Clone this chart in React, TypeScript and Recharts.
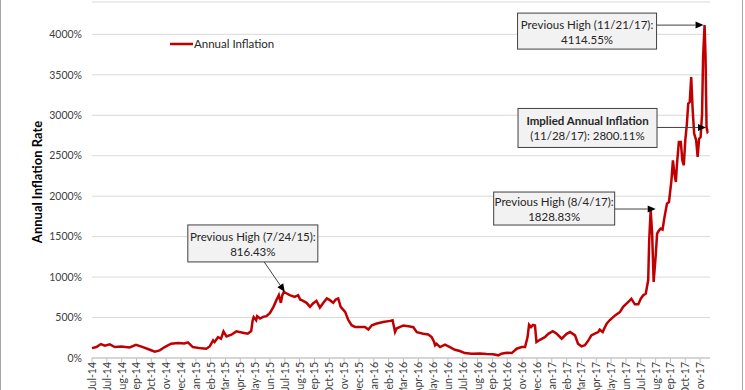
import { CartesianGrid, Line, LineChart, ReferenceDot, XAxis, YAxis } from "recharts";

const FONT = "Lato, 'DejaVu Sans', sans-serif";
const START = Date.UTC(2014, 6, 1);
const DAY = 86400000;

// observation dates and annual inflation (%)
const dates = [
  "2014-07-01", "2014-07-10", "2014-07-19", "2014-07-27", "2014-08-06", "2014-08-16", "2014-08-29", "2014-09-15",
  "2014-09-28", "2014-10-12", "2014-10-26", "2014-11-05", "2014-11-15", "2014-11-25", "2014-12-08", "2014-12-22",
  "2015-01-04", "2015-01-11", "2015-01-21", "2015-02-07", "2015-02-17", "2015-02-24", "2015-03-03", "2015-03-06",
  "2015-03-13", "2015-03-19", "2015-03-24", "2015-03-30", "2015-04-09", "2015-04-19", "2015-05-02", "2015-05-12",
  "2015-05-19", "2015-05-22", "2015-05-24", "2015-05-29", "2015-05-31", "2015-06-06", "2015-06-12", "2015-06-19",
  "2015-06-26", "2015-07-03", "2015-07-09", "2015-07-14", "2015-07-18", "2015-07-21", "2015-07-24", "2015-07-30",
  "2015-08-05", "2015-08-15", "2015-08-22", "2015-08-26", "2015-09-01", "2015-09-08", "2015-09-15", "2015-09-21",
  "2015-09-28", "2015-10-05", "2015-10-12", "2015-10-19", "2015-10-25", "2015-11-01", "2015-11-06", "2015-11-11",
  "2015-11-16", "2015-11-25", "2015-12-01", "2015-12-08", "2015-12-15", "2015-12-25", "2016-01-04", "2016-01-11",
  "2016-01-18", "2016-01-28", "2016-02-10", "2016-02-24", "2016-02-29", "2016-03-05", "2016-03-08", "2016-03-15",
  "2016-03-22", "2016-04-04", "2016-04-11", "2016-04-18", "2016-05-01", "2016-05-11", "2016-05-18", "2016-05-23",
  "2016-05-25", "2016-05-28", "2016-06-04", "2016-06-14", "2016-06-24", "2016-07-04", "2016-07-14", "2016-07-24",
  "2016-08-07", "2016-08-24", "2016-09-06", "2016-09-19", "2016-09-30", "2016-10-06", "2016-10-17", "2016-10-27",
  "2016-11-06", "2016-11-16", "2016-11-23", "2016-11-28", "2016-12-01", "2016-12-05", "2016-12-09", "2016-12-13",
  "2016-12-16", "2016-12-23", "2017-01-02", "2017-01-09", "2017-01-18", "2017-01-26", "2017-02-05", "2017-02-15",
  "2017-02-22", "2017-03-04", "2017-03-10", "2017-03-17", "2017-03-24", "2017-03-31", "2017-04-06", "2017-04-13",
  "2017-04-20", "2017-04-23", "2017-04-29", "2017-05-02", "2017-05-07", "2017-05-13", "2017-05-24", "2017-06-03",
  "2017-06-09", "2017-06-16", "2017-06-23", "2017-06-26", "2017-07-03", "2017-07-10", "2017-07-15", "2017-07-20",
  "2017-07-25", "2017-07-30", "2017-08-01", "2017-08-04", "2017-08-07", "2017-08-10", "2017-08-14", "2017-08-17",
  "2017-08-21", "2017-08-24", "2017-08-28", "2017-09-01", "2017-09-06", "2017-09-10", "2017-09-15", "2017-09-18",
  "2017-09-21", "2017-09-24", "2017-09-26", "2017-09-30", "2017-10-04", "2017-10-07", "2017-10-10", "2017-10-13",
  "2017-10-16", "2017-10-19", "2017-10-22", "2017-10-25", "2017-10-28", "2017-10-31", "2017-11-04", "2017-11-07",
  "2017-11-10", "2017-11-13", "2017-11-16", "2017-11-18", "2017-11-21", "2017-11-23", "2017-11-25", "2017-11-27",
  "2017-11-28",
];

const inflation = [
  122, 135, 172, 152, 168, 135, 143, 131,
  164, 135, 102, 78, 94, 135, 176, 184,
  180, 193, 135, 119, 115, 143, 218, 197,
  258, 238, 329, 267, 288, 329, 313, 300,
  333, 467, 506, 467, 516, 488, 508, 517,
  558, 632, 715, 777, 682, 777, 816.43, 797,
  777, 756, 777, 723, 707, 682, 632, 674,
  707, 624, 682, 736, 715, 682, 723, 736,
  632, 570, 475, 405, 384, 384, 384, 351,
  405, 426, 446, 459, 467, 322, 364, 384,
  402, 389, 381, 320, 299, 291, 258, 197,
  156, 176, 135, 164, 135, 102, 86, 61,
  53, 57, 49, 45, 33, 53, 66, 61,
  115, 135, 135, 258, 410, 381, 410, 402,
  197, 225, 258, 299, 332, 299, 238, 299,
  321, 280, 177, 144, 157, 218, 280, 301,
  321, 350, 321, 363, 424, 466, 527, 569,
  630, 672, 713, 733, 663, 663, 733, 775,
  795, 960, 1454, 1828.83, 1537, 939, 1248, 1537,
  1578, 1599, 1586, 1743, 1908, 1928, 2196, 2443,
  2279, 2175, 2382, 2670, 2670, 2443, 2382, 2690,
  2876, 3144, 3164, 3473, 3061, 2773, 2690, 2485,
  2711, 2732, 3020, 3721, 4114.55, 3721, 2855, 2794,
  2800.11,
];

const tickLabels = [
  "Jul-14", "Jul-14", "Aug-14", "Sep-14", "Oct-14", "Nov-14", "Dec-14",
  "Jan-15", "Feb-15", "Mar-15", "Apr-15", "May-15", "Jun-15", "Jul-15", "Aug-15", "Sep-15", "Oct-15", "Nov-15", "Dec-15",
  "Jan-16", "Feb-16", "Mar-16", "Apr-16", "May-16", "Jun-16", "Jul-16", "Aug-16", "Sep-16", "Oct-16", "Nov-16", "Dec-16",
  "Jan-17", "Feb-17", "Mar-17", "Apr-17", "May-17", "Jun-17", "Jul-17", "Aug-17", "Sep-17", "Oct-17", "Nov-17",
];

const yTicks = [0, 500, 1000, 1500, 2000, 2500, 3000, 3500, 4000];

const calloutDates = ["2015-07-24", "2017-08-04", "2017-11-21", "2017-11-28"];
const calloutValues = [816.43, 1828.83, 4114.55, 2800.11];
const calloutText = [
  ["Previous High (7/24/15):", "816.43%"],
  ["Previous High (8/4/17):", "1828.83%"],
  ["Previous High (11/21/17):", "4114.55%"],
  ["Implied Annual Inflation", "(11/28/17): 2800.11%"],
];

// box offset / size and arrow start/end, relative to the point
const calloutLayout = [
  { bx: -96, by: -67, w: 130, h: 37, sx: -21, sy: -32, ex: 1, ey: 0, bold: false },
  { bx: -157, by: -18, w: 121, h: 33, sx: -36, sy: -1, ex: 5, ey: -1, bold: false },
  { bx: -187, by: -12, w: 139, h: 36, sx: -48, sy: 0, ex: -1, ey: 0, bold: false },
  { bx: -190, by: -23, w: 139, h: 39, sx: -51, sy: -4, ex: -2, ey: -4, bold: true },
];

const dayOf = (s: string) => (Date.parse(s + "T00:00:00Z") - START) / DAY;

const data = dates.map((d, i) => ({ day: dayOf(d), value: inflation[i] }));
const xTicks = tickLabels.map((_, i) => i * 30);

const MonthTick = ({ x, y, payload }: any) => (
  <g transform={`translate(${x},${y})`}>
    <text
      transform="rotate(-90)"
      x={1}
      y={0}
      textAnchor="end"
      dominantBaseline="central"
      fontSize={10.5}
      fontFamily={FONT}
      fill="#404040"
    >
      {tickLabels[Math.round(payload.value / 30)]}
    </text>
  </g>
);

const makeCallout = (idx: number) => (props: any) => {
  const { cx, cy } = props;
  const L = calloutLayout[idx];
  const [l1, l2] = calloutText[idx];
  const x0 = cx + L.bx;
  const y0 = cy + L.by;
  const sx = cx + L.sx;
  const sy = cy + L.sy;
  const ex = cx + L.ex;
  const ey = cy + L.ey;
  const ang = Math.atan2(ey - sy, ex - sx);
  const hl = 8;
  const hw = 3.5;
  const bxp = ex - hl * Math.cos(ang);
  const byp = ey - hl * Math.sin(ang);
  const p1 = `${bxp - hw * Math.sin(ang)},${byp + hw * Math.cos(ang)}`;
  const p2 = `${bxp + hw * Math.sin(ang)},${byp - hw * Math.cos(ang)}`;
  return (
    <g>
      <line x1={sx} y1={sy} x2={bxp} y2={byp} stroke="#404040" strokeWidth={1} />
      <polygon points={`${ex},${ey} ${p1} ${p2}`} fill="#000" />
      <rect x={x0} y={y0} width={L.w} height={L.h} fill="#f2f2f2" stroke="#404040" strokeWidth={1} />
      <text
        x={x0 + L.w / 2}
        y={y0 + L.h / 2 - 7}
        textAnchor="middle"
        dominantBaseline="central"
        fontSize={11.5}
        fontFamily={FONT}
        fontWeight={L.bold ? 700 : 400}
        fill="#262626"
      >
        {l1}
      </text>
      <text
        x={x0 + L.w / 2}
        y={y0 + L.h / 2 + 8}
        textAnchor="middle"
        dominantBaseline="central"
        fontSize={11.5}
        fontFamily={FONT}
        fill="#262626"
      >
        {l2}
      </text>
    </g>
  );
};

export default function App() {
  return (
    <div style={{ position: "absolute", left: 0, top: 0, width: 745, height: 390, background: "#fff", overflow: "hidden", fontFamily: FONT }}>
      <div style={{ position: "absolute", left: 0, top: 0, width: 1, height: 390, background: "#a6a6a6" }} />
      <div style={{ position: "absolute", left: 742, top: 0, width: 1, height: 390, background: "#a6a6a6" }} />
      <LineChart width={745} height={390} data={data} margin={{ top: 2, right: 35, bottom: 0, left: 0 }}>
        <CartesianGrid vertical={false} stroke="#d9d9d9" />
        <XAxis
          dataKey="day"
          type="number"
          domain={[0, 1250]}
          ticks={xTicks}
          interval={0}
          height={32}
          tick={<MonthTick />}
          tickSize={5}
          tickMargin={0}
          axisLine={{ stroke: "#bfbfbf" }}
          tickLine={{ stroke: "#bfbfbf" }}
        />
        <YAxis
          type="number"
          domain={[0, 4400]}
          ticks={yTicks}
          width={92}
          axisLine={false}
          tickLine={false}
          tickMargin={4}
          tickFormatter={(v: number) => `${v}%`}
          tick={{ fill: "#404040", fontSize: 10.5, fontFamily: FONT }}
          label={{
            content: () => (
              <text
                x={37}
                y={182}
                transform="rotate(-90 37 182)"
                textAnchor="middle"
                dominantBaseline="central"
                fontSize={13}
                fontWeight={700}
                fontFamily={FONT}
                fill="#000"
              >
                Annual Inflation Rate
              </text>
            ),
          }}
        />
        <Line
          type="linear"
          dataKey="value"
          name="Annual Inflation"
          stroke="#c00000"
          strokeWidth={2.5}
          dot={false}
          isAnimationActive={false}
        />
        {calloutDates.map((d, i) => (
          <ReferenceDot
            key={d}
            x={dayOf(d)}
            y={calloutValues[i]}
            r={0}
            ifOverflow="visible"
            shape={makeCallout(i)}
          />
        ))}
      </LineChart>
      <div
        style={{
          position: "absolute",
          left: 170,
          top: 36,
          display: "flex",
          alignItems: "center",
          fontSize: 11.5,
          color: "#262626",
          lineHeight: "16px",
        }}
      >
        <svg width={23} height={4} style={{ display: "block" }}>
          <line x1={0} y1={2} x2={23} y2={2} stroke="#c00000" strokeWidth={2.5} />
        </svg>
        <span style={{ marginLeft: 1 }}>Annual Inflation</span>
      </div>
    </div>
  );
}
